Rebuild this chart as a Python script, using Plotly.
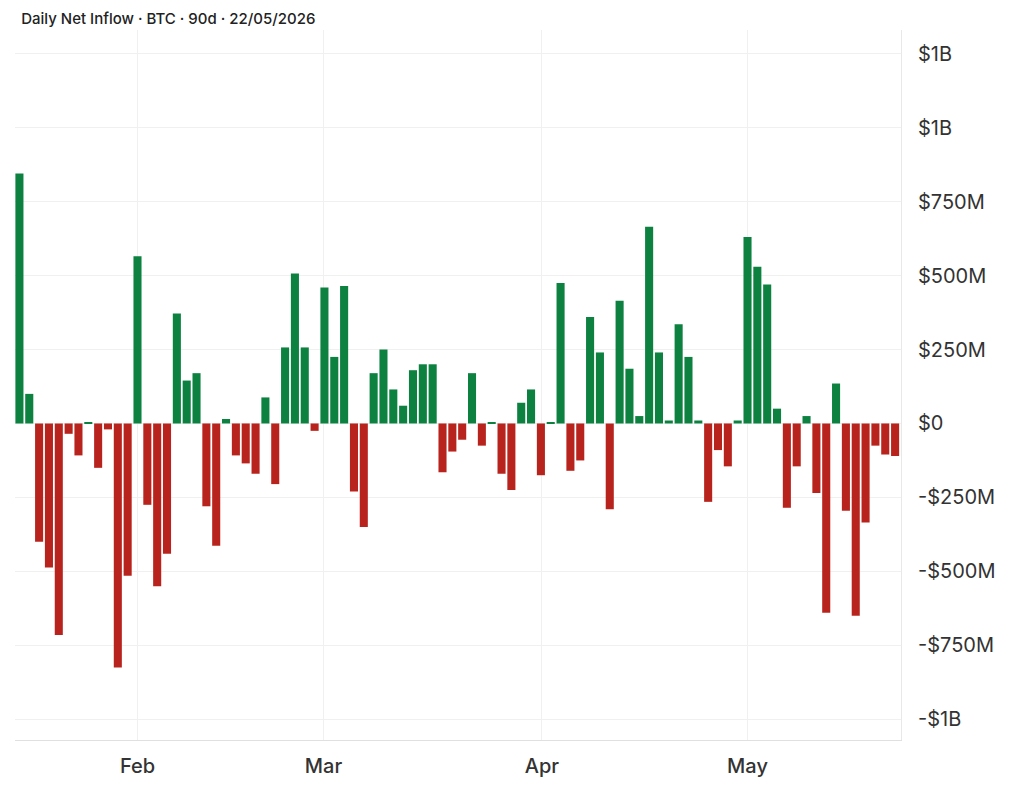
import plotly.graph_objects as go

# daily net inflow, $M, oldest first (90 days)
inflow = [
    845, 100, -400, -487, -715, -35, -108, 5, -150, -20,
    -825, -515, 565, -275, -550, -440, 372, 145, 170, -280,
    -413, 15, -108, -135, -170, 88, -205, 257, 507, 257,
    -25, 460, 225, 465, -230, -350, 170, 250, 115, 60,
    180, 200, 200, -165, -95, -55, 170, -75, 5, -170,
    -225, 70, 115, -175, 5, 475, -160, -125, 360, 240,
    -290, 415, 185, 25, 665, 240, 10, 335, 225, 10,
    -265, -90, -145, 10, 630, 530, 470, 50, -285, -145,
    25, -235, -640, 135, -295, -650, -335, -75, -105, -110,
]
month_pos = [12.0, 30.9, 53.1, 74.0]
month_labels = ["Feb", "Mar", "Apr", "May"]
y_ticks = [-1000, -750, -500, -250, 0, 250, 500, 750, 1000, 1250]
y_labels = ["-$1B", "-$750M", "-$500M", "-$250M", "$0", "$250M", "$500M", "$750M", "$1B", "$1B"]

GREEN = "#0c8140"
RED = "#b8241d"

fig = go.Figure(
    go.Bar(
        x=list(range(len(inflow))),
        y=inflow,
        marker=dict(color=[GREEN if v >= 0 else RED for v in inflow], line=dict(width=0)),
    )
)
fig.update_layout(
    width=1024,
    height=794,
    paper_bgcolor="white",
    plot_bgcolor="white",
    bargap=0.18,
    showlegend=False,
    font=dict(family="Inter, Roboto, sans-serif", color="#333"),
    margin=dict(l=7, r=131, t=22, b=62),
    title=dict(
        text="Daily Net Inflow · BTC · 90d · 22/05/2026",
        x=0.007, xref="paper", xanchor="left", y=0.987, yanchor="middle",
        font=dict(size=15, color="#222", weight=500),
    ),
    xaxis=dict(
        range=[-0.45, 89.6],
        tickvals=month_pos,
        ticktext=month_labels,
        tickfont=dict(size=20, color="#333", weight=500),
        ticklabelstandoff=8,
        showgrid=True,
        gridcolor="#f0f0f0",
        showline=True,
        linecolor="#e0e0e0",
        zeroline=False,
        fixedrange=True,
    ),
    yaxis=dict(
        side="right",
        range=[-1070, 1330],
        tickvals=y_ticks,
        ticktext=y_labels,
        tickfont=dict(size=20, color="#333"),
        showgrid=True,
        gridcolor="#f0f0f0",
        zeroline=False,
        showline=True,
        linecolor="#e8e8e8",
        ticks="",
        ticklabelstandoff=12,
    ),
)
fig.write_html("out.html")
